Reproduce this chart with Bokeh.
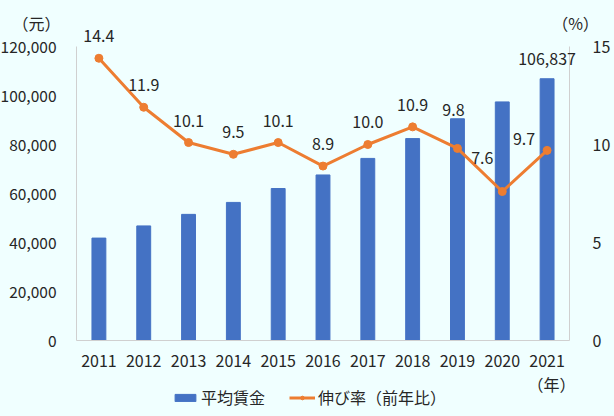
from bokeh.plotting import figure
from bokeh.models import (ColumnDataSource, Range1d, LinearAxis, FixedTicker,
                          NumeralTickFormatter, Label, Legend, LegendItem, LabelSet)
from bokeh.core.properties import value
from bokeh.embed import file_html
from bokeh.resources import INLINE

years = ["2011", "2012", "2013", "2014", "2015", "2016", "2017", "2018", "2019", "2020", "2021"]
wages = [41799, 46769, 51483, 56360, 62029, 67569, 74318, 82413, 90501, 97379, 106837]
growth = [14.4, 11.9, 10.1, 9.5, 10.1, 8.9, 10.0, 10.9, 9.8, 7.6, 9.7]
growth_labels = ["14.4", "11.9", "10.1", "9.5", "10.1", "8.9", "10.0", "10.9", "9.8", "7.6", "9.7"]
last_wage_label = "106,837"
left_ticks = [0, 20000, 40000, 60000, 80000, 100000, 120000]
right_ticks = [0, 5, 10, 15]
wage_max = 120000
pct_max = 15

# label pixel offsets (style only)
lab_dx = [0, 0, 0, 0, 0, 0, 0, 0, -4, -20, -23]
lab_dy = [22, 22, 22, 22, 22, 22, 23, 22, 38, 34, 11]

FONT = "Noto Sans CJK JP"
TXT = "#262626"
BG = "#F0FFFF"
FS = "16px"

# layout in pixels (figure coords)
W, H = 614, 416
FL, FR, FT, FB = 76, 569, 46, 340   # plot area edges
n = len(years)
xpx = (FR - FL) / n
x_start = -FL / xpx
x_end = n + (W - FR) / xpx
ypx = (FB - FT)
y_start = -(H - FB) / ypx * wage_max
y_end = wage_max + FT / ypx * wage_max
p_start = -(H - FB) / ypx * pct_max
p_end = pct_max + FT / ypx * pct_max

xs = [i + 0.5 for i in range(n)]
src = ColumnDataSource(dict(x=xs, wage=wages, growth=growth, glab=growth_labels,
                            dx=lab_dx, dy=lab_dy))

p = figure(width=W, height=H, x_range=Range1d(x_start, x_end), y_range=Range1d(y_start, y_end),
           x_axis_type=None, y_axis_type=None,
           output_backend="svg", toolbar_location=None,
           min_border_left=0, min_border_right=0, min_border_top=0, min_border_bottom=0)
p.background_fill_color = BG
p.border_fill_color = BG
p.outline_line_color = None
p.grid.visible = False
p.extra_y_ranges = {"pct": Range1d(p_start, p_end)}

bars = p.vbar(x="x", top="wage", width=0.31, source=src, color="#4472C4")
line = p.line(x="x", y="growth", source=src, y_range_name="pct", line_color="#ED7D31", line_width=3)
pts = p.scatter(x="x", y="growth", source=src, y_range_name="pct", size=8,
                fill_color="#ED7D31", line_color="#ED7D31")

labels = LabelSet(x="x", y="growth", text="glab", source=src, y_range_name="pct",
                  x_offset="dx", y_offset="dy", text_align="center", text_baseline="middle",
                  text_font=value(FONT), text_font_size=FS, text_color=TXT)
p.add_layout(labels)

p.add_layout(Label(x=xs[-1], y=wages[-1], text=last_wage_label, y_offset=20, text_align="center",
                   text_baseline="middle", text_font=FONT, text_font_size=FS, text_color=TXT))

def style_axis(ax):
    ax.major_tick_line_color = None
    ax.minor_tick_line_color = None
    ax.axis_line_color = "#D0D0D0"
    ax.major_label_text_font = FONT
    ax.major_label_text_font_size = FS
    ax.major_label_text_color = TXT

ya = LinearAxis(ticker=FixedTicker(ticks=left_ticks), formatter=NumeralTickFormatter(format="0,0"),
                fixed_location=0, bounds=(0, wage_max))
ya.major_label_standoff = 14
style_axis(ya)
ya.major_label_text_font_size = "15.5px"
p.add_layout(ya, "left")

ra = LinearAxis(y_range_name="pct", ticker=FixedTicker(ticks=right_ticks),
                fixed_location=n, bounds=(0, pct_max))
ra.major_label_standoff = 17
style_axis(ra)
p.add_layout(ra, "right")

xa = LinearAxis(ticker=FixedTicker(ticks=xs), fixed_location=0, bounds=(0, n),
                major_label_overrides={x: y for x, y in zip(xs, years)})
style_axis(xa)
xa.major_label_standoff = 8
p.add_layout(xa, "below")

for txt, x, y, xo, yo in [("（元）", 0, wage_max, -40, 24), ("（%）", n, wage_max, 6, 24), ("（年）", n, 0, -18, -43)]:
    p.add_layout(Label(x=x, y=y, text=txt, x_offset=xo, y_offset=yo, text_align="center",
                       text_baseline="middle", text_font=FONT, text_font_size=FS, text_color=TXT))

legend = Legend(items=[LegendItem(label="平均賃金", renderers=[bars]),
                       LegendItem(label="伸び率（前年比）", renderers=[line, pts])],
                orientation="horizontal", location=(172, 7),
                background_fill_alpha=0, border_line_color=None,
                glyph_width=26, glyph_height=9, label_standoff=3, spacing=24,
                label_text_font=FONT, label_text_font_size=FS, label_text_color=TXT,
                padding=0, margin=0)
p.add_layout(legend, "center")

html = file_html(p, INLINE)
html = html.replace("<head>", "<head><style>html,body{background:%s;}</style>" % BG, 1)
open("out.html", "w").write(html)
